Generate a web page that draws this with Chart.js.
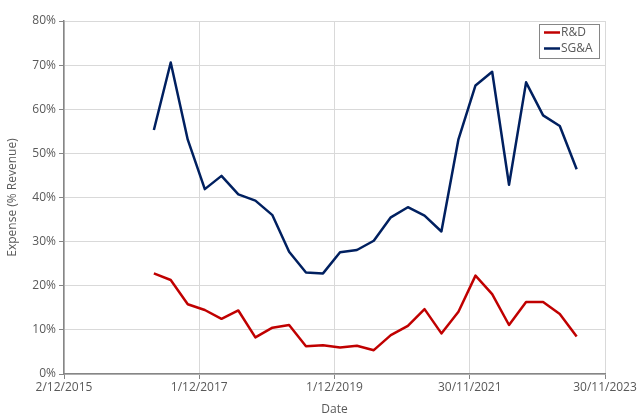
<!DOCTYPE html>
<html>
<head>
<meta charset="utf-8">
<script src="https://cdn.jsdelivr.net/npm/chart.js@4/dist/chart.umd.min.js"></script>
<style>
  html, body { margin: 0; padding: 0; background: #fff; }
  #wrap { width: 640px; height: 418px; }
</style>
</head>
<body>
<div id="wrap"><canvas id="expenseChart" width="640" height="418"></canvas></div>
<script>
// quarter end dates
const quarterEnds = [
  '2017-03-31', '2017-06-30', '2017-09-30', '2017-12-31',
  '2018-03-31', '2018-06-30', '2018-09-30', '2018-12-31',
  '2019-03-31', '2019-06-30', '2019-09-30', '2019-12-31',
  '2020-03-31', '2020-06-30', '2020-09-30', '2020-12-31',
  '2021-03-31', '2021-06-30', '2021-09-30', '2021-12-31',
  '2022-03-31', '2022-06-30', '2022-09-30', '2022-12-31',
  '2023-03-31', '2023-06-30'
];
// expense as % of revenue
const rdValues = [
  22.8, 21.3, 15.8, 14.5, 12.5, 14.4, 8.3, 10.5, 11.1, 6.3, 6.5, 6.0, 6.4,
  5.4, 8.8, 10.9, 14.7, 9.2, 14.1, 22.3, 18.1, 11.1, 16.3, 16.3, 13.6, 8.5
];
const sgaValues = [
  55.3, 70.6, 53.1, 41.9, 44.9, 40.7, 39.3, 36.0, 27.7, 23.0, 22.8, 27.6, 28.1,
  30.2, 35.5, 37.8, 35.9, 32.3, 53.2, 65.4, 68.5, 42.9, 66.1, 58.6, 56.2, 46.4
];
const xTickDates = ['2015-12-02', '2017-12-01', '2019-12-01', '2021-11-30', '2023-11-30'];
const yTicks = [0, 10, 20, 30, 40, 50, 60, 70, 80];

const grey = '#595959';
const axisGrey = '#868686';

function dayNum(s) {
  const [y, m, d] = s.split('-').map(Number);
  return Date.UTC(y, m - 1, d) / 86400000;
}
function fmtDay(v) {
  const d = new Date(v * 86400000);
  return d.getUTCDate() + '/' + (d.getUTCMonth() + 1) + '/' + d.getUTCFullYear();
}

// legend box drawn inside the plot, top right
const boxLegend = {
  id: 'boxLegend',
  afterDraw(chart) {
    const ctx = chart.ctx;
    const x = 539, y = 24, w = 60, h = 34;
    ctx.save();
    ctx.strokeStyle = axisGrey;
    ctx.lineWidth = 1;
    ctx.strokeRect(x + 0.5, y + 0.5, w, h);
    ctx.font = '12px "Open Sans"';
    ctx.textBaseline = 'middle';
    chart.data.datasets.forEach((ds, i) => {
      const ly = y + 8.5 + i * 16;
      ctx.strokeStyle = ds.borderColor;
      ctx.lineWidth = 2.5;
      ctx.beginPath();
      ctx.moveTo(x + 5, ly);
      ctx.lineTo(x + 21, ly);
      ctx.stroke();
      ctx.fillStyle = grey;
      ctx.fillText(ds.label, x + 22, ly + 0.5);
    });
    ctx.restore();
  }
};

const ctx = document.getElementById('expenseChart').getContext('2d');
const expenseChart = new Chart(ctx, {
  type: 'line',
  data: {
    datasets: [{
      label: 'R&D',
      data: quarterEnds.map((q, i) => ({ x: dayNum(q), y: rdValues[i] })),
      borderColor: '#C00000',
      borderWidth: 2.5,
      pointRadius: 0,
      tension: 0,
      borderJoinStyle: 'round'
    }, {
      label: 'SG&A',
      data: quarterEnds.map((q, i) => ({ x: dayNum(q), y: sgaValues[i] })),
      borderColor: '#002060',
      borderWidth: 2.5,
      pointRadius: 0,
      tension: 0,
      borderJoinStyle: 'round'
    }]
  },
  options: {
    responsive: false,
    animation: false,
    devicePixelRatio: 1,
    layout: { padding: { left: 0, right: 35, top: 21, bottom: 0 } },
    plugins: {
      legend: { display: false },
      tooltip: { enabled: false }
    },
    scales: {
      x: {
        type: 'linear',
        min: dayNum(xTickDates[0]),
        max: dayNum(xTickDates[xTickDates.length - 1]),
        afterBuildTicks: scale => {
          scale.ticks = xTickDates.map(d => ({ value: dayNum(d) }));
        },
        afterFit: scale => { scale.height = 44; },
        ticks: {
          callback: v => fmtDay(v),
          color: grey,
          font: { family: 'Open Sans', size: 12 },
          padding: 1,
          maxRotation: 0,
          autoSkip: false
        },
        grid: { color: '#d9d9d9', tickColor: axisGrey, tickLength: 5 },
        border: { color: axisGrey, width: 1.5 },
        title: {
          display: true,
          text: 'Date',
          color: grey,
          font: { family: 'Open Sans', size: 12 },
          padding: { top: 0, bottom: 1 }
        }
      },
      y: {
        min: 0,
        max: 80,
        afterBuildTicks: scale => {
          scale.ticks = yTicks.map(v => ({ value: v }));
        },
        afterFit: scale => { scale.width = 64; },
        ticks: {
          callback: v => v + '%',
          color: grey,
          font: { family: 'Open Sans', size: 12 },
          padding: 3
        },
        grid: { color: '#d9d9d9', tickColor: axisGrey, tickLength: 5 },
        border: { color: axisGrey, width: 1.5 },
        title: {
          display: true,
          text: 'Expense (% Revenue)',
          color: grey,
          font: { family: 'Open Sans', size: 12 },
          padding: { top: 5, bottom: 0 }
        }
      }
    }
  },
  plugins: [boxLegend]
});
</script>
</body>
</html>
